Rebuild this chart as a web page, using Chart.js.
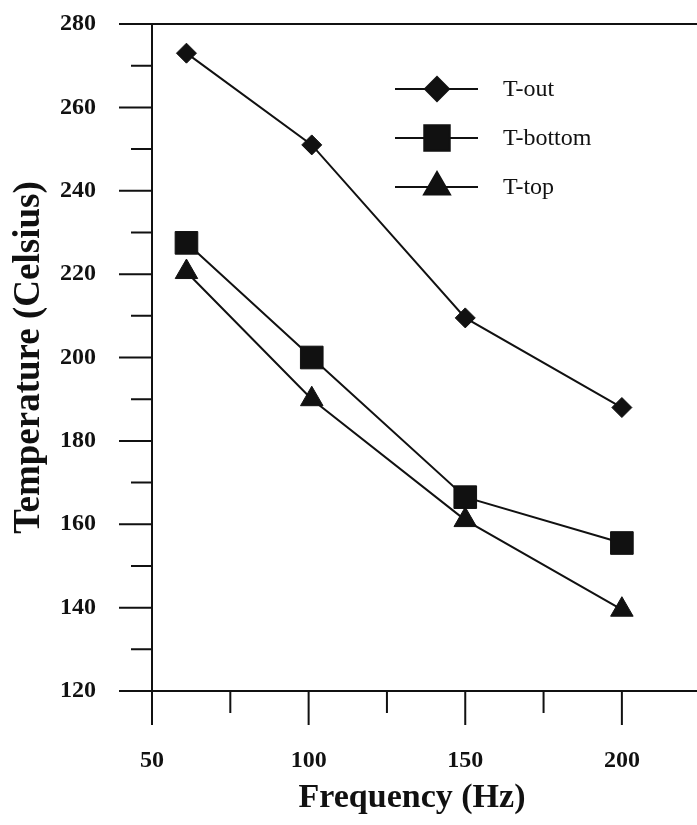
<!DOCTYPE html>
<html>
<head>
<meta charset="utf-8">
<script src="https://cdn.jsdelivr.net/npm/chart.js@4.4.1/dist/chart.umd.min.js"></script>
<style>
  html, body { margin: 0; padding: 0; background: #fff; overflow: hidden; }
  #wrap { width: 697px; height: 825px; overflow: hidden; }
</style>
</head>
<body>
<div id="wrap"><canvas id="chart" width="697" height="825"></canvas></div>
<script>
// data
const frequency = [61, 101, 150, 200];
const tOut = [273, 251, 209.5, 188];
const tBottom = [227.5, 200, 166.5, 155.5];
const tTop = [220.5, 190, 161, 139.5];

const seriesNames = ['T-out', 'T-bottom', 'T-top'];
const yTicks = [120, 140, 160, 180, 200, 220, 240, 260, 280];
const xTicks = [50, 100, 150, 200];

const serif = "'Liberation Serif', 'Times New Roman', serif";

function toPoints(ys) {
    return frequency.map((f, i) => ({ x: f, y: ys[i] }));
}

// tick marks (long at labelled values, short in between) and the frame lines
const axisMarks = {
    id: 'axisMarks',
    afterDraw(chart) {
        const { ctx, chartArea: a, scales: { x, y } } = chart;
        ctx.save();
        ctx.strokeStyle = '#111';
        ctx.lineWidth = 2;
        ctx.beginPath();
        ctx.moveTo(a.left, a.top);
        ctx.lineTo(chart.width, a.top);
        ctx.moveTo(a.left, a.bottom);
        ctx.lineTo(chart.width, a.bottom);
        ctx.moveTo(a.left, a.top);
        ctx.lineTo(a.left, a.bottom + 34);
        for (let v = 120; v <= 280; v += 10) {
            const py = y.getPixelForValue(v);
            const len = v % 20 === 0 ? 33 : 21;
            ctx.moveTo(a.left - len, py);
            ctx.lineTo(a.left, py);
        }
        for (let v = 75; v <= 225; v += 25) {
            const px = x.getPixelForValue(v);
            const len = v % 50 === 0 ? 34 : 22;
            ctx.moveTo(px, a.bottom);
            ctx.lineTo(px, a.bottom + len);
        }
        ctx.stroke();
        ctx.restore();
    }
};

// legend drawn as line with marker in the middle
const lineLegend = {
    id: 'lineLegend',
    afterDraw(chart) {
        const { ctx } = chart;
        ctx.save();
        chart.data.datasets.forEach((ds, i) => {
            const cy = 89 + i * 49;
            ctx.strokeStyle = '#111';
            ctx.lineWidth = 2;
            ctx.beginPath();
            ctx.moveTo(395, cy);
            ctx.lineTo(478, cy);
            ctx.stroke();
            ctx.fillStyle = '#111';
            Chart.helpers.drawPoint(ctx, {
                pointStyle: ds.pointStyle,
                radius: ds.pointRadius + 2,
                rotation: 0,
                borderWidth: 1
            }, 437, cy);
            ctx.fillStyle = '#111';
            ctx.font = '24px ' + serif;
            ctx.textBaseline = 'middle';
            ctx.textAlign = 'left';
            ctx.fillText(ds.label, 503, cy + 1);
        });
        ctx.restore();
    }
};

const common = {
    borderColor: '#111',
    backgroundColor: '#111',
    pointBorderColor: '#111',
    pointBackgroundColor: '#111',
    borderWidth: 2,
    pointBorderWidth: 1,
    showLine: true,
    tension: 0
};

new Chart(document.getElementById('chart'), {
    type: 'scatter',
    data: {
        datasets: [
            { ...common, label: seriesNames[0], data: toPoints(tOut), pointStyle: 'rectRot', pointRadius: 10 },
            { ...common, label: seriesNames[1], data: toPoints(tBottom), pointStyle: 'rect', pointRadius: 16 },
            { ...common, label: seriesNames[2], data: toPoints(tTop), pointStyle: 'triangle', pointRadius: 13 }
        ]
    },
    options: {
        responsive: false,
        animation: false,
        devicePixelRatio: 1,
        layout: { padding: { top: 24, right: 25, left: 0, bottom: 0 } },
        plugins: {
            legend: { display: false },
            tooltip: { enabled: false }
        },
        scales: {
            x: {
                type: 'linear',
                min: 50,
                max: 216,
                afterFit: s => { s.height = 825 - 24 - 667; s.paddingLeft = 0; s.paddingRight = 0; },
                afterBuildTicks: s => { s.ticks = xTicks.map(v => ({ value: v })); },
                grid: { display: false, drawTicks: false },
                border: { display: false },
                ticks: {
                    color: '#111',
                    padding: 55,
                    maxRotation: 0,
                    font: { family: serif, size: 24, weight: 'bold' }
                },
                title: {
                    display: true,
                    text: 'Frequency (Hz)',
                    color: '#111',
                    padding: { top: 0, bottom: 6 },
                    font: { family: serif, size: 34, weight: 'bold' }
                }
            },
            y: {
                min: 120,
                max: 280,
                afterFit: s => { s.width = 152; s.paddingTop = 0; s.paddingBottom = 0; },
                afterBuildTicks: s => { s.ticks = yTicks.map(v => ({ value: v })); },
                grid: { display: false, drawTicks: false },
                border: { display: false },
                ticks: {
                    color: '#111',
                    padding: 56,
                    font: { family: serif, size: 24, weight: 'bold' }
                },
                title: {
                    display: true,
                    text: 'Temperature (Celsius)',
                    color: '#111',
                    padding: { top: 7, bottom: 0 },
                    font: { family: serif, size: 37, weight: 'bold' }
                }
            }
        }
    },
    plugins: [axisMarks, lineLegend]
});
</script>
</body>
</html>
